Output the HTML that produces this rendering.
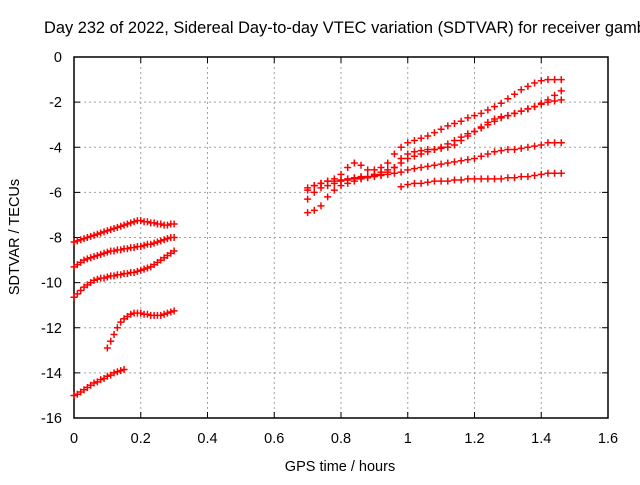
<!DOCTYPE html>
<html><head><meta charset="utf-8"><style>
body{margin:0;background:#fff;width:640px;height:480px;overflow:hidden}
svg{font-family:"Liberation Sans",sans-serif;}
</style></head><body>
<svg id="chart" width="640" height="480">
<text x="44" y="33" font-size="16.4">Day 232 of 2022, Sidereal Day-to-day VTEC variation (SDTVAR) for receiver gamb</text>
<g id="grid"></g><g id="axes"></g><g id="marks"></g>
<text x="340" y="471" font-size="14.5" text-anchor="middle">GPS time / hours</text>
<text x="0" y="0" font-size="14.5" text-anchor="middle" transform="translate(19,237) rotate(-90)">SDTVAR / TECUs</text>
</svg>
<script>
const xTicks=[0,0.2,0.4,0.6,0.8,1,1.2,1.4,1.6];
const xTickLabels=["0","0.2","0.4","0.6","0.8","1","1.2","1.4","1.6"];
const yTicks=[0,-2,-4,-6,-8,-10,-12,-14,-16];
const yTickLabels=["0","-2","-4","-6","-8","-10","-12","-14","-16"];
const seriesStarts=[0,0,0,0.10,0,0.70,0.70,0.70,0.70,0.98];
const seriesSteps=[0.01,0.01,0.01,0.01,0.01,0.02,0.02,0.02,0.02,0.02];
const sA=[-8.2,-8.15,-8.1,-8.05,-8.0,-7.95,-7.9,-7.85,-7.8,-7.75,-7.7,-7.65,-7.6,-7.55,-7.5,-7.45,-7.4,-7.35,-7.3,-7.25,-7.25,-7.3,-7.3,-7.35,-7.35,-7.4,-7.4,-7.45,-7.45,-7.4,-7.4];
const sB=[-9.3,-9.2,-9.1,-9.0,-8.95,-8.9,-8.85,-8.8,-8.75,-8.7,-8.65,-8.6,-8.6,-8.55,-8.55,-8.5,-8.5,-8.45,-8.45,-8.4,-8.4,-8.35,-8.3,-8.3,-8.25,-8.2,-8.15,-8.1,-8.05,-8.0,-8.0];
const sC=[-10.65,-10.5,-10.35,-10.2,-10.1,-10.0,-9.9,-9.85,-9.8,-9.8,-9.75,-9.7,-9.7,-9.65,-9.65,-9.6,-9.6,-9.55,-9.55,-9.5,-9.45,-9.4,-9.35,-9.3,-9.2,-9.1,-9.0,-8.9,-8.8,-8.7,-8.6];
const sD=[-12.9,-12.6,-12.3,-12.0,-11.75,-11.6,-11.5,-11.4,-11.35,-11.35,-11.35,-11.4,-11.4,-11.45,-11.45,-11.45,-11.45,-11.4,-11.35,-11.3,-11.25];
const sE=[-15.0,-14.95,-14.85,-14.75,-14.65,-14.55,-14.45,-14.4,-14.3,-14.25,-14.15,-14.1,-14.0,-13.95,-13.9,-13.85];
const s1=[-5.9,-5.7,-5.6,-5.5,-5.4,-5.2,-4.9,-4.7,-4.8,-5.0,-5.0,-4.9,-4.7,-4.3,-4.0,-3.8,-3.7,-3.6,-3.5,-3.35,-3.2,-3.05,-2.95,-2.85,-2.7,-2.6,-2.5,-2.35,-2.2,-2.05,-1.85,-1.65,-1.45,-1.3,-1.15,-1.05,-1.0,-1.0,-1.0];
const s2=[-6.3,-6.0,-5.8,-5.7,-5.6,-5.5,-5.45,-5.4,-5.35,-5.3,-5.2,-5.1,-5.0,-4.9,-4.7,-4.5,-4.4,-4.3,-4.2,-4.1,-4.0,-3.85,-3.7,-3.55,-3.4,-3.3,-3.15,-3.0,-2.85,-2.7,-2.6,-2.5,-2.4,-2.3,-2.2,-2.05,-1.9,-1.7,-1.5];
const s3=[-5.8,-5.7,-5.6,-5.5,-5.5,-5.45,-5.4,-5.35,-5.3,-5.3,-5.25,-5.2,-5.1,-4.9,-4.5,-4.3,-4.2,-4.15,-4.1,-4.1,-4.05,-4.0,-3.9,-3.7,-3.5,-3.3,-3.1,-2.9,-2.75,-2.65,-2.6,-2.5,-2.4,-2.3,-2.2,-2.1,-2.0,-1.95,-1.9];
const s4=[-6.9,-6.8,-6.6,-6.2,-5.9,-5.7,-5.6,-5.5,-5.4,-5.35,-5.3,-5.25,-5.2,-5.15,-5.1,-5.0,-4.95,-4.9,-4.85,-4.8,-4.75,-4.7,-4.65,-4.6,-4.55,-4.5,-4.4,-4.3,-4.2,-4.15,-4.1,-4.1,-4.05,-4.0,-3.95,-3.9,-3.8,-3.8,-3.8];
const s5=[-5.75,-5.65,-5.6,-5.6,-5.55,-5.5,-5.5,-5.5,-5.45,-5.45,-5.4,-5.4,-5.4,-5.4,-5.4,-5.4,-5.35,-5.35,-5.3,-5.3,-5.25,-5.2,-5.15,-5.15,-5.15];
const allSeries=[sA,sB,sC,sD,sE,s1,s2,s3,s4,s5];

const X0=74,X1=608,Y0=57,Y1=418;
const xs=v=>X0+(v-0)/1.6*(X1-X0);
const ys=v=>Y0+(0-v)/16*(Y1-Y0);
const NS="http://www.w3.org/2000/svg";
function mk(tag,attrs,parent){const e=document.createElementNS(NS,tag);for(const k in attrs)e.setAttribute(k,attrs[k]);parent.appendChild(e);return e;}
const grid=document.getElementById('grid'),axes=document.getElementById('axes'),marks=document.getElementById('marks');
xTicks.forEach((t,i)=>{
  const x=xs(t);
  if(i>0&&i<xTicks.length-1){const g=mk('line',{x1:x,x2:x,y1:Y0,y2:Y1,stroke:'#a0a0a0','stroke-dasharray':'2,3'},grid);
  
  }
  const tk=mk('path',{d:`M${x},${Y1}v-6M${x},${Y0}v6`,stroke:'#000'},axes);
  
  
  const l=mk('text',{x:x,y:Y1+25,'font-size':'14.5','text-anchor':'middle'},axes);l.textContent=xTickLabels[i];
  
  
});
yTicks.forEach((t,i)=>{
  const y=ys(t);
  if(i>0&&i<yTicks.length-1){const g=mk('line',{x1:X0,x2:X1,y1:y,y2:y,stroke:'#a0a0a0','stroke-dasharray':'2,3'},grid);
  
  }
  const tk=mk('path',{d:`M${X0},${y}h6M${X1},${y}h-6`,stroke:'#000'},axes);
  
  
  const l=mk('text',{x:X0-12,y:y+5,'font-size':'14.5','text-anchor':'end'},axes);l.textContent=yTickLabels[i];
  
  
});
const box=mk('rect',{x:X0,y:Y0,width:X1-X0,height:Y1-Y0,fill:'none',stroke:'#000','stroke-width':1.5},axes);


allSeries.forEach((vals,si)=>{
  let d='';
  vals.forEach((v,j)=>{const x=xs(seriesStarts[si]+j*seriesSteps[si]),y=ys(v);d+=`M${x-3.5},${y}h7M${x},${y-3.5}v7`;});
  const p=mk('path',{d:d,stroke:'#ff0000','stroke-width':1.5,fill:'none'},marks);
  
  
});
</script>
</body></html>
